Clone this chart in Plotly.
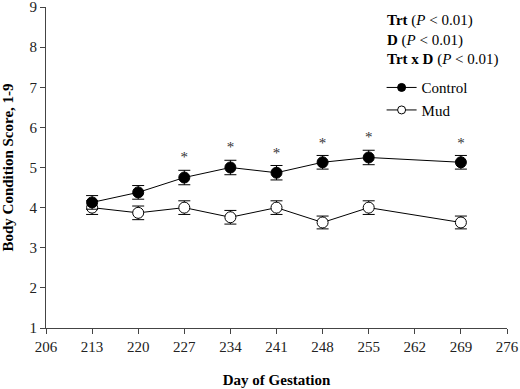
import plotly.graph_objects as go

days = [213, 220, 227, 234, 241, 248, 255, 269]
control = [4.13, 4.38, 4.75, 5.00, 4.87, 5.13, 5.25, 5.13]
control_se = [0.17, 0.17, 0.18, 0.18, 0.18, 0.17, 0.18, 0.17]
mud = [4.00, 3.87, 4.00, 3.76, 4.00, 3.63, 4.00, 3.63]
mud_se = [0.17, 0.17, 0.17, 0.17, 0.17, 0.16, 0.17, 0.16]
sig_days = [227, 234, 241, 248, 255, 269]
x_ticks = [206, 213, 220, 227, 234, 241, 248, 255, 262, 269, 276]
y_ticks = [1, 2, 3, 4, 5, 6, 7, 8, 9]

FONT = "Liberation Serif, Times New Roman, serif"

fig = go.Figure()
fig.add_trace(go.Scatter(
    x=days, y=mud, name="Mud", mode="lines+markers", showlegend=False,
    line=dict(color="black", width=1),
    marker=dict(symbol="circle", size=11, color="white", line=dict(color="black", width=1)),
    error_y=dict(type="data", array=mud_se, color="black", thickness=1, width=6),
))
fig.add_trace(go.Scatter(
    x=days, y=control, name="Control", mode="lines+markers", showlegend=False,
    line=dict(color="black", width=1),
    marker=dict(symbol="circle", size=11, color="black", line=dict(color="black", width=1)),
    error_y=dict(type="data", array=control_se, color="black", thickness=1, width=6),
))
# legend-only entries (no error bars in the legend glyph)
fig.add_trace(go.Scatter(
    x=[None], y=[None], name="Control", mode="lines+markers",
    line=dict(color="black", width=1),
    marker=dict(symbol="circle", size=8, color="black", line=dict(color="black", width=1)),
))
fig.add_trace(go.Scatter(
    x=[None], y=[None], name="Mud", mode="lines+markers",
    line=dict(color="black", width=1),
    marker=dict(symbol="circle", size=8, color="white", line=dict(color="black", width=1)),
))

sig_y = [control[days.index(d)] + control_se[days.index(d)] + 0.29 for d in sig_days]
fig.add_trace(go.Scatter(
    x=sig_days, y=sig_y, mode="text", text=["*"] * len(sig_days),
    textfont=dict(family=FONT, size=15, color="#333333"), showlegend=False, hoverinfo="skip",
))

fig.add_annotation(
    xref="paper", yref="paper", x=0.735, y=0.992, xanchor="left", yanchor="top",
    align="left", showarrow=False,
    text="<b>Trt</b> (<i>P</i> &lt; 0.01)<br><b>D</b> (<i>P</i> &lt; 0.01)<br><b>Trt x D</b> (<i>P</i> &lt; 0.01)",
    font=dict(family=FONT, size=15, color="black"),
)

fig.update_layout(
    template="none",
    width=520, height=389,
    margin=dict(l=46, r=13, t=7, b=61, autoexpand=False),
    paper_bgcolor="white", plot_bgcolor="white",
    font=dict(family=FONT, size=15, color="black"),
    showlegend=True,
    legend=dict(x=0.728, y=0.80, xanchor="left", yanchor="top",
                font=dict(family=FONT, size=15, color="black"),
                bgcolor="rgba(0,0,0,0)", tracegroupgap=0),
    xaxis=dict(range=[206, 276], tickvals=x_ticks, ticks="outside", ticklen=5, automargin=False,
               ticklabeloverflow="allow",
               showline=True, linecolor="#444", linewidth=1, showgrid=False, zeroline=False,
               tickfont=dict(family=FONT, size=15, color="#222"),
               title=dict(text="<b>Day of Gestation</b>", font=dict(family=FONT, size=15), standoff=20)),
    yaxis=dict(range=[1, 9], tickvals=y_ticks, ticks="outside", ticklen=5, automargin=False,
               ticklabeloverflow="allow",
               showline=True, linecolor="#444", linewidth=1, showgrid=False, zeroline=False,
               tickfont=dict(family=FONT, size=15, color="#222"),
               title=dict(text="<b>Body Condition Score, 1-9</b>", font=dict(family=FONT, size=15), standoff=14)),
)

fig.write_html("out.html", config={"displayModeBar": False},
               post_script="document.body.style.margin='0';")
